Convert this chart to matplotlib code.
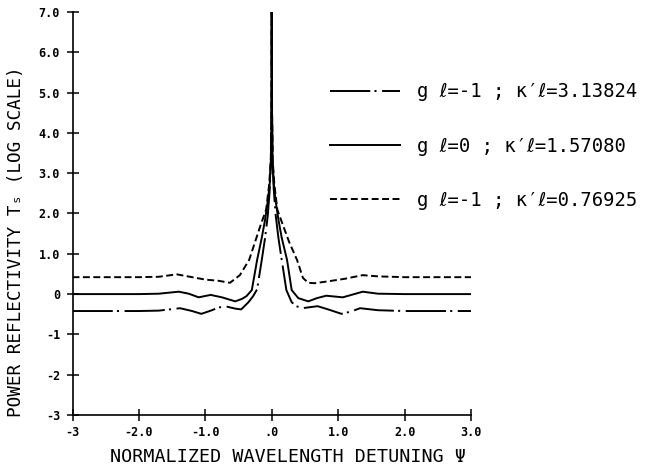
"""
Power reflectivity vs normalized wavelength detuning (log scale).
Recreated from a scanned plotter figure.
"""

import matplotlib
matplotlib.use("Agg")
import matplotlib.pyplot as plt

MONO = ["DejaVu Sans Mono", "DejaVu Sans"]

# ---------------------------------------------------------------------------
# data
# ---------------------------------------------------------------------------

# g l = -1 ; kappa' l = 3.13824  (dash-dot)
psi_a = [-3.0, -2.5, -2.0, -1.7, -1.38, -1.2, -1.06, -0.9, -0.8, -0.68, -0.55,
         -0.46, -0.35, -0.28, -0.22, -0.15, -0.1, -0.06, -0.03, -0.012, -0.004, 0.0,
         0.004, 0.012, 0.03, 0.06, 0.1, 0.15, 0.22, 0.3, 0.37, 0.46, 0.55, 0.69, 0.85,
         1.05, 1.2, 1.33, 1.6, 2.0, 2.5, 3.0]
ts_a = [-0.42, -0.42, -0.42, -0.41, -0.35, -0.42, -0.49, -0.4, -0.33, -0.31, -0.36,
        -0.38, -0.2, -0.05, 0.12, 0.85, 1.4, 1.95, 2.6, 3.3, 4.5, 7.0,
        4.5, 3.3, 2.6, 1.95, 1.4, 0.85, 0.1, -0.2, -0.3, -0.35, -0.33, -0.3, -0.38,
        -0.49, -0.43, -0.35, -0.4, -0.42, -0.42, -0.42]

# g l = 0 ; kappa' l = 1.57080  (solid)
psi_b = [-3.0, -2.5, -2.0, -1.7, -1.4, -1.25, -1.1, -0.92, -0.75, -0.55, -0.45,
         -0.38, -0.3, -0.22, -0.15, -0.1, -0.06, -0.03, -0.012, -0.004, 0.0,
         0.004, 0.012, 0.03, 0.06, 0.1, 0.15, 0.23, 0.3, 0.4, 0.55, 0.68, 0.82, 1.07,
         1.37, 1.6, 2.0, 2.5, 3.0]
ts_b = [0.0, 0.0, 0.0, 0.01, 0.06, 0.01, -0.08, -0.02, -0.08, -0.18, -0.12,
        -0.05, 0.1, 0.85, 1.4, 1.85, 2.3, 2.75, 3.35, 4.5, 7.0,
        4.5, 3.35, 2.75, 2.3, 1.85, 1.4, 0.85, 0.1, -0.1, -0.18, -0.1, -0.04, -0.08,
        0.06, 0.01, 0.0, 0.0, 0.0]

# g l = -1 ; kappa' l = 0.76925  (dashed)
psi_c = [-3.0, -2.5, -2.0, -1.7, -1.43, -1.2, -1.0, -0.8, -0.63, -0.48, -0.34,
         -0.25, -0.16, -0.085, -0.04, -0.015, -0.005, 0.0,
         0.005, 0.015, 0.04, 0.085, 0.16, 0.26, 0.38, 0.47, 0.55, 0.65, 0.9, 1.1,
         1.37, 1.6, 2.0, 2.5, 3.0]
ts_c = [0.42, 0.42, 0.42, 0.43, 0.49, 0.42, 0.36, 0.33, 0.28, 0.47, 0.85,
        1.3, 1.75, 2.09, 2.7, 3.3, 4.5, 7.0,
        4.5, 3.3, 2.7, 2.09, 1.75, 1.3, 0.85, 0.4, 0.28, 0.27, 0.33, 0.38,
        0.47, 0.44, 0.42, 0.42, 0.42]

labels = [
    "g ℓ=-1 ; κ′ℓ=3.13824",
    "g ℓ=0 ; κ′ℓ=1.57080",
    "g ℓ=-1 ; κ′ℓ=0.76925",
]

x_ticks = [-3, -2, -1, 0, 1, 2, 3]
x_tick_labels = ["-3", "-2.0", "-1.0", ".0", "1.0", "2.0", "3.0"]
y_ticks = [-3, -2, -1, 0, 1, 2, 3, 4, 5, 6, 7]
y_tick_labels = ["-3", "-2", "-1", "0", "1.0", "2.0", "3.0", "4.0", "5.0", "6.0", "7.0"]

# ---------------------------------------------------------------------------
# figure
# ---------------------------------------------------------------------------

plt.rcParams["lines.scale_dashes"] = False

fig = plt.figure(figsize=(6.46, 4.68), dpi=100)
ax = fig.add_axes([72.5 / 646, 1 - 415 / 468, 398.5 / 646, 403 / 468])

line_a, = ax.plot(psi_a, ts_a, color="black", lw=1.4, dashes=(29, 3, 1.5, 4))
line_b, = ax.plot(psi_b, ts_b, color="black", lw=1.4)
line_c, = ax.plot(psi_c, ts_c, color="black", lw=1.4, dashes=(5, 2.5))

ax.set_xlim(-3, 3)
ax.set_ylim(-3, 7)
ax.set_xticks(x_ticks)
ax.set_xticklabels(x_tick_labels)
ax.set_yticks(y_ticks)
ax.set_yticklabels(y_tick_labels)

for side in ("top", "right"):
    ax.spines[side].set_visible(False)
for side in ("left", "bottom"):
    ax.spines[side].set_linewidth(1.2)

ax.tick_params(direction="inout", length=8, width=1.1, labelsize=8.5)
ax.tick_params(axis="y", pad=5)
ax.tick_params(axis="x", pad=4)
for lbl in ax.get_xticklabels() + ax.get_yticklabels():
    lbl.set_family(MONO)
    lbl.set_fontweight("bold")

fig.text(16 / 646, 1 - 242 / 468, "POWER REFLECTIVITY Tₛ (LOG SCALE)",
         rotation=90, ha="center", va="center", family=MONO, fontsize=12.7)
fig.text(288 / 646, 1 - 457 / 468, "NORMALIZED WAVELENGTH DETUNING Ψ",
         ha="center", va="center", family=MONO, fontsize=13.2)

fig.legend([line_a, line_b, line_c], labels,
           loc="center left", bbox_to_anchor=(330 / 646, 1 - 146 / 468),
           frameon=False, borderpad=0, borderaxespad=0,
           handlelength=3.7, handletextpad=0.9, labelspacing=1.87,
           prop={"family": MONO, "size": 13.6})

fig.savefig("out.png", dpi=100)
